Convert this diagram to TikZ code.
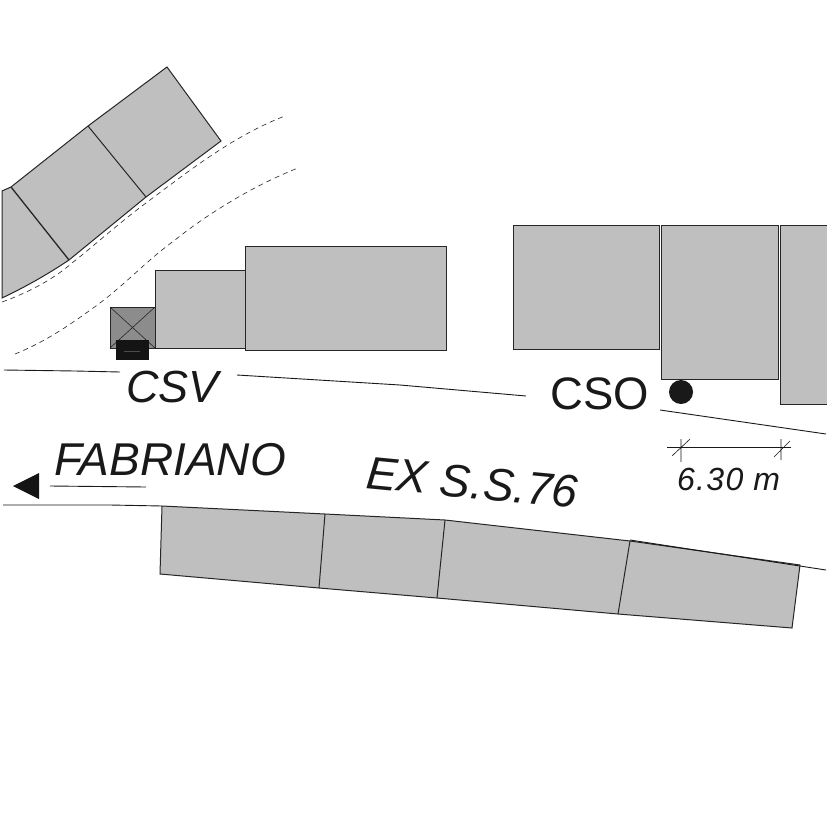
\documentclass[tikz,border=0pt]{standalone}
\usepackage{fontspec}
\setmainfont{Liberation Sans}
\begin{document}
\begin{tikzpicture}[x=1pt,y=-1pt,
  bld/.style={draw=black!85,fill=black!25,line width=1pt,line join=miter},
  roadline/.style={draw=black!90,line width=0.9pt},
  kerb/.style={draw=black!85,line width=0.6pt,dash pattern=on 5pt off 4pt},
  label/.style={inner sep=0pt,anchor=base west,text=black!90,font=\fontsize{46}{46}\selectfont\itshape},
  upright/.style={inner sep=0pt,anchor=base west,text=black!90,font=\fontsize{45.5}{46}\selectfont}]
\useasboundingbox (0,0) rectangle (827,827);
\fill[white] (0,0) rectangle (827,827);
% upper-left buildings
\path[bld] (2,191) -- (11,187) -- (88,126) -- (167,67) -- (221,141) -- (146,197) -- (69,260) .. controls (45,276) and (25,287) .. (2,298) -- cycle;
\draw[bld,fill=none,line width=1.3pt] (11,187) -- (69,260);
\draw[bld,fill=none] (88,126) -- (146,197);
% dashed kerbs
\draw[kerb] (2,302) .. controls (30,292) and (55,278) .. (72,263) .. controls (95,245) and (120,222) .. (150,200) .. controls (190,170) and (235,135) .. (285,116);
\draw[kerb] (15,354) .. controls (45,342) and (70,325) .. (100,303) .. controls (130,280) and (145,262) .. (175,240) .. controls (210,212) and (255,185) .. (298,168);
% central buildings
\path[bld] (155,270) rectangle (245,348);
\path[bld] (245,246) rectangle (446,350);
\path[bld,fill=black!45] (110,307) rectangle (155,348);
\draw[draw=black!85,line width=0.6pt] (110,307) -- (155,348) (155,307) -- (110,348);
\fill[black!92] (116,340) rectangle (149,360);
\draw[black!70,line width=0.6pt] (124,351) -- (140,351);
% right buildings
\path[bld] (513,225) rectangle (659,349);
\path[bld] (661,225) rectangle (778,379);
\path[bld] (780,225) rectangle (827,404);
\fill[black!90] (681,392) circle (12);
% road edges
\draw[roadline] (4,370) -- (75,371) -- (120,372);
\draw[roadline] (237,375) -- (400,385) -- (526,396);
\draw[roadline] (660,410) -- (826,434);
\draw[roadline] (3,505) -- (110,505) -- (162,506);
% lower buildings
\path[bld] (162,506) -- (325,514) -- (445,520) -- (630,541) -- (800,565) -- (792,628) -- (618,614) -- (437,598) -- (319,588) -- (160,574) -- cycle;
\draw[bld,fill=none] (325,514) -- (319,588);
\draw[bld,fill=none] (445,520) -- (437,598);
\draw[bld,fill=none] (630,541) -- (618,614);
\draw[roadline] (630,540) -- (826,570);
% labels
\node[label,font=\fontsize{45}{45}\selectfont\itshape] (csv) at (126,402) {CSV};
\node[upright] (cso) at (550,409) {CSO};
\node[label,font=\fontsize{46}{46}\selectfont\itshape] (fab) at (54,475) {FABRIANO};
\node[label,rotate=-5.5] (exss) at (365,488) {EX S.S.76};
\node[label,font=\fontsize{32}{32}\selectfont\itshape\addfontfeature{LetterSpace=4}] (dim) at (677,490) {6.30 m};
% direction arrow
\coordinate (tip) at (13,486);
\coordinate (shaftend) at (146,487);
\fill[black!92] (tip) -- (39,473) -- (39,499) -- cycle;
\draw[roadline] (50,486) -- (shaftend);
% dimension
\coordinate (d1) at (681,447);
\coordinate (d2) at (781,447);
\draw[black!90,line width=0.8pt] (667,447) -- (791,447);
\draw[black!90,line width=0.6pt] (681,439) -- (681,462) (672,456) -- (690,439);
\draw[black!90,line width=0.6pt] (781,439) -- (781,460) (774,457) -- (790,441);
\end{tikzpicture}
\end{document}
